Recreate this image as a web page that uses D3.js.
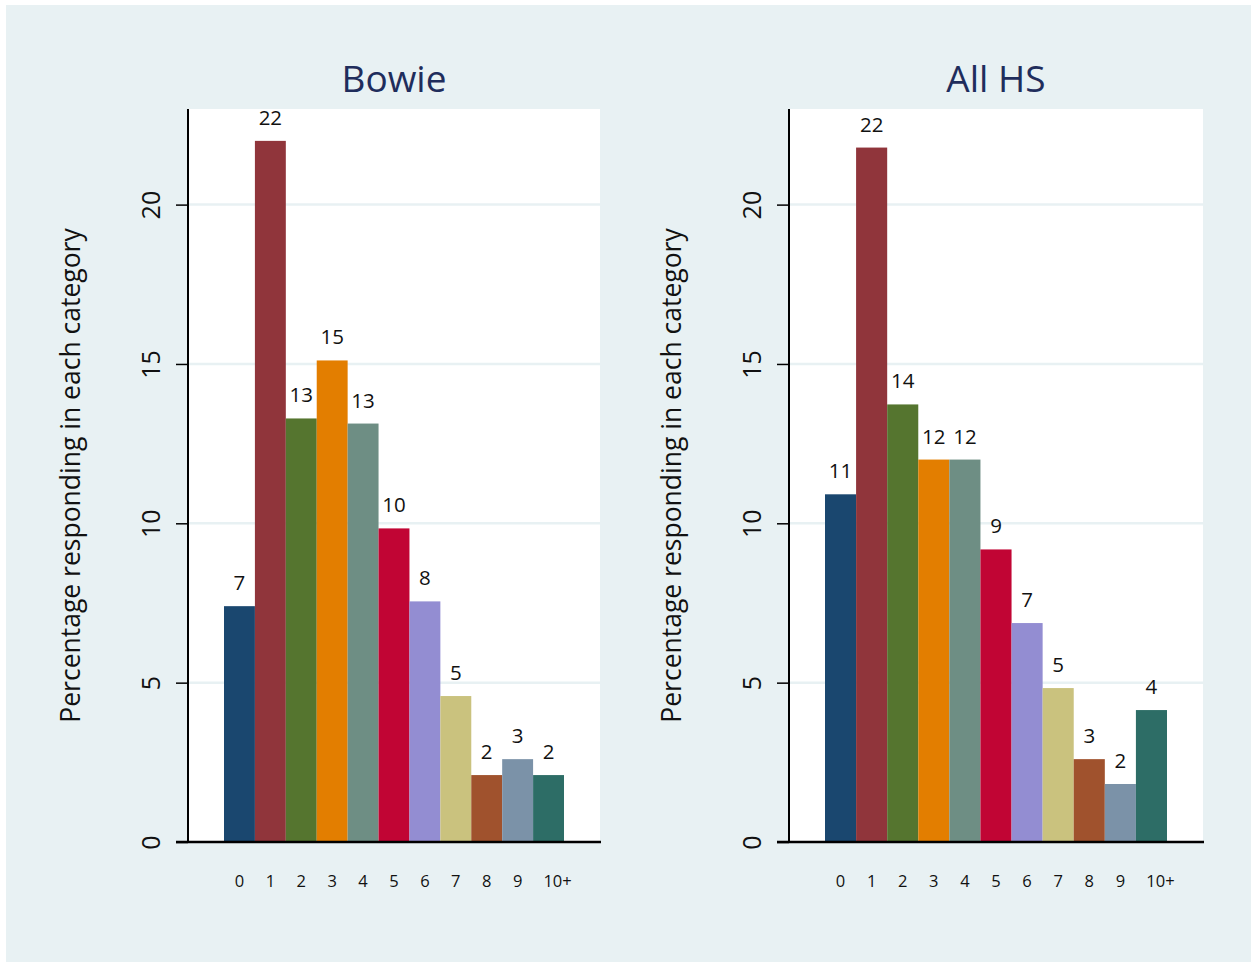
<!DOCTYPE html>
<html><head><meta charset="utf-8">
<script src="https://cdn.jsdelivr.net/npm/d3@7/dist/d3.min.js"></script>
<style>body{margin:0;background:#fff}svg{display:block}text{font-family:"Open Sans",Lato,sans-serif}</style>
</head><body>
<script>
const categories = ["0","1","2","3","4","5","6","7","8","9","10+"];
const bowieValues = [7.40,22.0,13.29,15.11,13.13,9.84,7.55,4.58,2.10,2.60,2.10];
const allHSValues = [10.91,21.79,13.73,12.0,12.0,9.18,6.87,4.83,2.60,1.82,4.14];
const panelTitles = ["Bowie","All HS"];
const yTicks = [0,5,10,15,20];
const yTitle = "Percentage responding in each category";
const barColors = ["#1a476f","#90353b","#55752f","#e37e00","#6e8e84","#c10534","#938dd2","#cac27e","#a0522d","#7b92a8","#2d6d66"];

(function(){
const W=1251,H=962;
const svg=d3.select("body").append("svg").attr("width",W).attr("height",H);
svg.append("rect").attr("x",6).attr("y",5).attr("width",W-6).attr("height",H-5).attr("fill","#e8f1f3");

const panels=[{left:188,right:600,values:bowieValues,title:panelTitles[0]},
              {left:789,right:1203,values:allHSValues,title:panelTitles[1]}];
const plotTop=109,plotBottom=842;
const y=d3.scaleLinear().domain([0,23]).range([plotBottom,plotTop]);

panels.forEach(p=>{
  const g=svg.append("g");
  g.append("rect").attr("x",p.left).attr("y",plotTop).attr("width",p.right-p.left).attr("height",plotBottom-plotTop).attr("fill","#fff");
  g.selectAll(".grid").data(yTicks.filter(d=>d>0)).enter().append("line")
    .attr("x1",p.left).attr("x2",p.right).attr("y1",d=>y(d)).attr("y2",d=>y(d))
    .attr("stroke","#e8f1f3").attr("stroke-width",2.5);
  const x=d3.scaleBand().domain(categories).range([p.left+36,p.right-36]).padding(0);
  g.selectAll(".bar").data(p.values).enter().append("rect")
    .attr("x",(d,i)=>x(categories[i])).attr("width",x.bandwidth())
    .attr("y",d=>y(d)).attr("height",d=>y(0)-y(d))
    .attr("fill",(d,i)=>barColors[i]);
  g.selectAll(".lab").data(p.values).enter().append("text")
    .attr("x",(d,i)=>x(categories[i])+x.bandwidth()/2).attr("y",d=>y(d)-16)
    .attr("text-anchor","middle").attr("font-size",20.5).attr("fill","#111")
    .text(d=>Math.round(d));
  const ya=g.append("g").attr("transform",`translate(${p.left},0)`)
    .call(d3.axisLeft(y).tickValues(yTicks).tickSize(12).tickPadding(0).tickFormat(d3.format("d")));
  ya.select(".domain").remove();
  ya.selectAll(".tick line").attr("stroke","#000").attr("stroke-width",1.5);
  ya.selectAll(".tick text").attr("transform","translate(-37,0) rotate(-90)").attr("text-anchor","middle")
    .attr("x",0).attr("dy","0.35em").attr("font-size",25).attr("fill","#111");
  g.append("line").attr("x1",p.left).attr("x2",p.left).attr("y1",plotTop).attr("y2",plotBottom+1).attr("stroke","#000").attr("stroke-width",2);
  const xa=g.append("g").attr("transform",`translate(0,${plotBottom})`)
    .call(d3.axisBottom(x).tickSize(0).tickPadding(33));
  xa.select(".domain").remove();
  xa.selectAll(".tick text").attr("font-size",16.5).attr("fill","#111")
    .attr("dx",d=>d==="10+"?9:0);
  g.append("line").attr("x1",p.left-12).attr("x2",p.right+1).attr("y1",plotBottom).attr("y2",plotBottom).attr("stroke","#000").attr("stroke-width",2.5);
  g.append("text").attr("x",(p.left+p.right)/2).attr("y",92).attr("text-anchor","middle")
    .attr("font-size",37).attr("fill","#1f2d5c").text(p.title);
  const cy=(plotTop+plotBottom)/2, cx=p.left-117;
  g.append("text").attr("transform",`translate(${cx},${cy}) rotate(-90)`).attr("text-anchor","middle")
    .attr("dy","0.35em").attr("font-size",26.5).attr("fill","#111").text(yTitle);
});
})();
</script>
</body></html>
